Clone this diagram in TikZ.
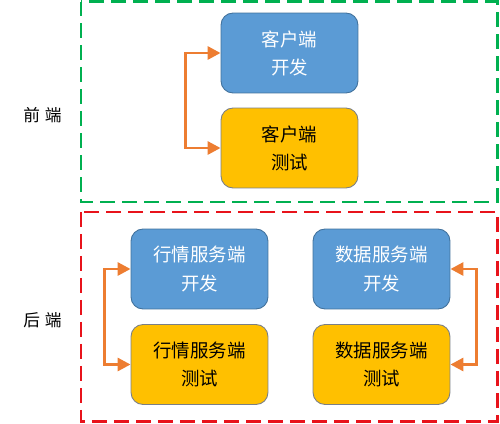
\documentclass[tikz,border=0pt]{standalone}
\usepackage{fontspec}
\setmainfont{Noto Sans CJK SC}
\usetikzlibrary{arrows.meta}
\usepackage{xcolor}
\definecolor{devblue}{HTML}{5B9BD5}
\definecolor{devline}{HTML}{41719C}
\definecolor{testyellow}{HTML}{FFC000}
\definecolor{testline}{HTML}{7A7F86}
\definecolor{linkorange}{HTML}{ED7D31}
\definecolor{frontgreen}{HTML}{00B050}
\definecolor{backred}{HTML}{E8131B}

\tikzset{
  task/.style={draw, rectangle, rounded corners=0.24cm, line width=0.5pt,
    minimum width=2.74cm, minimum height=1.6cm, align=center,
    font=\fontsize{10.5}{16}\selectfont},
  devbox/.style={task, fill=devblue, draw=devline, text=white},
  testbox/.style={task, fill=testyellow, draw=testline, text=black},
  link/.style={<->, draw=linkorange, line width=1.7pt},
  layer/.style={dashed, line width=1.7pt, dash pattern=on 0.3cm off 0.14cm},
  side/.style={font=\fontsize{9.5}{11}\selectfont}
}

\begin{document}
\begin{tikzpicture}[x=0.02cm, y=-0.02cm,
    >={Triangle[length=0.26cm, width=0.26cm]}]
  \useasboundingbox (0,0) rectangle (500,423);

  % dashed frames
  \draw [layer, color=frontgreen] (81,1.5) rectangle (497,202);
  \draw [layer, color=backred] (81,212) rectangle (497,421);

  \node [side, name=front] at (42.5,115) {前\hspace{0.1cm}端};
  \node [side, name=back] at (42.5,320) {后\hspace{0.1cm}端};

  % front end
  \node [devbox, name=cdev] at (289.5,53) {客户端\\开发};
  \node [testbox, name=ctest] at (289.5,148) {客户端\\测试};

  % back end
  \node [devbox, name=hdev] at (199.5,269) {行情服务端\\开发};
  \node [testbox, name=htest] at (199.5,364.5) {行情服务端\\测试};
  \node [devbox, name=ddev] at (381.5,269) {数据服务端\\开发};
  \node [testbox, name=dtest] at (381.5,364.5) {数据服务端\\测试};

  \draw [link] (cdev.west) -- ++(-35,0) |- (ctest.west);
  \draw [link] (hdev.west) -- ++(-26,0) |- (htest.west);
  \draw [link] (ddev.east) -- ++(26,0) |- (dtest.east);
\end{tikzpicture}
\end{document}
